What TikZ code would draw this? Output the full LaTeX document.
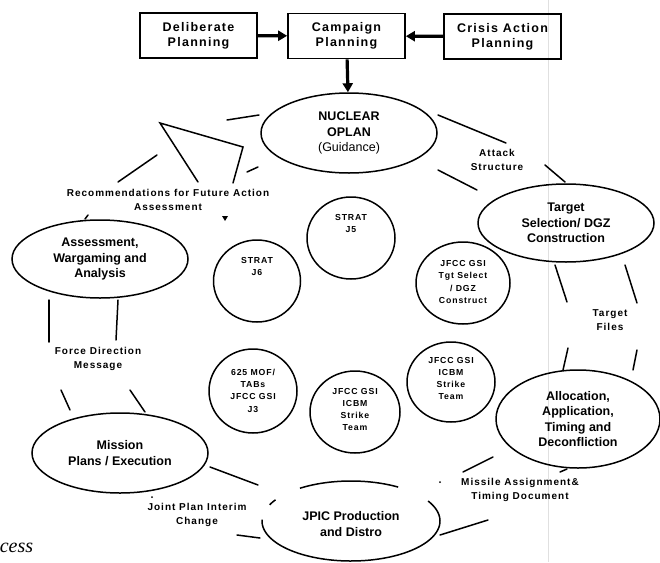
\documentclass[tikz,border=0pt]{standalone}
\usepackage{fontspec}
\setmainfont{Liberation Sans}
\newfontfamily\spacedfont[LetterSpace=10]{Liberation Sans}
\newfontfamily\capfont{Liberation Serif}
\usetikzlibrary{shapes.geometric,arrows.meta}
\begin{document}
\begin{tikzpicture}[x=1pt,y=-1pt,line width=1.5pt,
  boxnode/.style={draw,line width=1.7pt,minimum width=117pt,minimum height=45pt,inner sep=0pt,align=center,
    font=\spacedfont\fontsize{12.5}{15}\selectfont\bfseries},
  bigell/.style={draw,ellipse,inner sep=0pt,align=center,font=\fontsize{12.5}{15.5}\selectfont\bfseries},
  smallcirc/.style={draw,ellipse,inner sep=0pt,align=center},
  ctext/.style={align=center,inner sep=0pt,font=\spacedfont\fontsize{8.7}{12.3}\selectfont\bfseries},
  lbl/.style={align=center,inner sep=0pt,font=\spacedfont\fontsize{10}{14.5}\selectfont\bfseries},
  fat/.style={line width=3.2pt,-{Triangle[length=9pt,width=10pt]}},
  seg/.style={line width=1.5pt,line cap=round},
]
\useasboundingbox (0,0) rectangle (660,562);
% faint scan line
\draw[black!12,line width=0.8pt] (548,0) -- (548,562);

% top boxes
\node[boxnode] (delib) at (198.5,35.5) {Deliberate\\Planning};
\node[boxnode] (camp) at (346.5,36) {Campaign\\Planning};
\node[boxnode] (crisis) at (502.5,36.5) {Crisis Action\\Planning};

% main ellipses
\node[bigell,minimum width=176pt,minimum height=80pt] (nuc) at (349,133) {NUCLEAR\\OPLAN\\{\mdseries(Guidance)}};
\node[bigell,minimum width=176pt,minimum height=78pt] (tsel) at (566,223) {Target\\Selection/ DGZ\\Construction};
\node[bigell,minimum width=164pt,minimum height=98pt] (alloc) at (578,419) {Allocation,\\Application,\\Timing and\\Deconfliction};
\node[bigell,minimum width=176pt,minimum height=80pt] (mission) at (120,453) {Mission\\Plans / Execution};
\node[bigell,minimum width=176pt,minimum height=78pt] (assess) at (100,259) {Assessment,\\Wargaming and\\Analysis};
\node[bigell,draw=none,minimum width=178pt,minimum height=80pt] (jpic) at (351,524) {JPIC Production\\and Distro};
\draw plot[domain=58:125,samples=30] ({351+89*cos(\x)},{521-40*sin(\x)});
\draw plot[domain=148:156,samples=6] ({351+89*cos(\x)},{521-40*sin(\x)});
\draw plot[domain=178:390,samples=80] ({351+89*cos(\x)},{521-40*sin(\x)});

% inner circles
\node[smallcirc,minimum width=88pt,minimum height=82pt] (strat5) at (351,238) {};
\node[ctext] (strat5t) at (351,223.5) {STRAT\\J5};
\node[smallcirc,minimum width=87pt,minimum height=82pt] (strat6) at (257,281) {};
\node[ctext] (strat6t) at (257,266.5) {STRAT\\J6};
\node[smallcirc,minimum width=94pt,minimum height=82pt] (tgtsel) at (463,283) {};
\node[ctext] (tgtselt) at (463,282) {JFCC GSI\\Tgt Select\\/ DGZ\\Construct};
\node[smallcirc,minimum width=88pt,minimum height=80pt] (icbma) at (451,382) {};
\node[ctext] (icbmat) at (451,378.5) {JFCC GSI\\ICBM\\Strike\\Team};
\node[smallcirc,minimum width=90pt,minimum height=82pt] (icbmb) at (355,412) {};
\node[ctext] (icbmbt) at (355,409.5) {JFCC GSI\\ICBM\\Strike\\Team};
\node[smallcirc,minimum width=88pt,minimum height=84pt] (mof) at (253,391) {};
\node[ctext] (moft) at (253,390.5) {625 MOF/\\TABs\\JFCC GSI\\J3};

% labels
\node[lbl] (rec) at (168,200) {Recommendations for Future Action\\Assessment};
\node[lbl] (attack) at (497,160) {Attack\\Structure};
\node[lbl] (tfiles) at (610,320) {Target\\Files};
\node[lbl] (missile) at (520,490) {Missile Assignment\&\\Timing Document};
\node[lbl] (joint) at (197,515) {Joint Plan Interim\\Change};
\node[lbl] (force) at (98,359) {Force Direction\\Message};
\node[anchor=west,inner sep=0pt,font=\capfont\itshape\fontsize{20}{20}\selectfont] (cess) at (-1,548) {cess};

% arrows
\draw[fat] (delib) -- (camp);
\draw[fat] (crisis) -- (camp);
\draw[fat] (camp) -- (nuc);

% broken cycle fragments
\draw[seg] (118,182) -- (157,155);
\draw[seg] (227,120) -- (259,115);
\draw[seg] (198,182) -- (160,123) -- (243,147) -- (233,183);
\draw[seg] (247,172) -- (258,167);
\draw[seg] (438,115) -- (506,143);
\draw[seg] (438,170) -- (477,190);
\draw[seg] (545,165) -- (565,182);
\draw[seg] (555,265) -- (567,302);
\draw[seg] (625,265) -- (637,303);
\draw[seg] (568,348) -- (563,370);
\draw[seg] (637,350) -- (633,370);
\draw[seg] (463,472) -- (493,457);
\draw[seg] (440,535) -- (488,520);
\draw[seg] (560,472) -- (567,469);
\draw[seg] (210,467) -- (258,485);
\draw[seg] (237,535) -- (260,538);
\draw[seg] (49,300) -- (49,342);
\draw[seg] (118,300) -- (116,340);
\draw[seg] (61,390) -- (70,410);
\draw[seg] (130,390) -- (145,412);
\draw[seg] (85,219) -- (88,215);
\fill (440,482) circle (1pt);
\fill (152,497) circle (1pt);
\fill (222,216) -- (228,216) -- (225,221) -- cycle;
\end{tikzpicture}
\end{document}
